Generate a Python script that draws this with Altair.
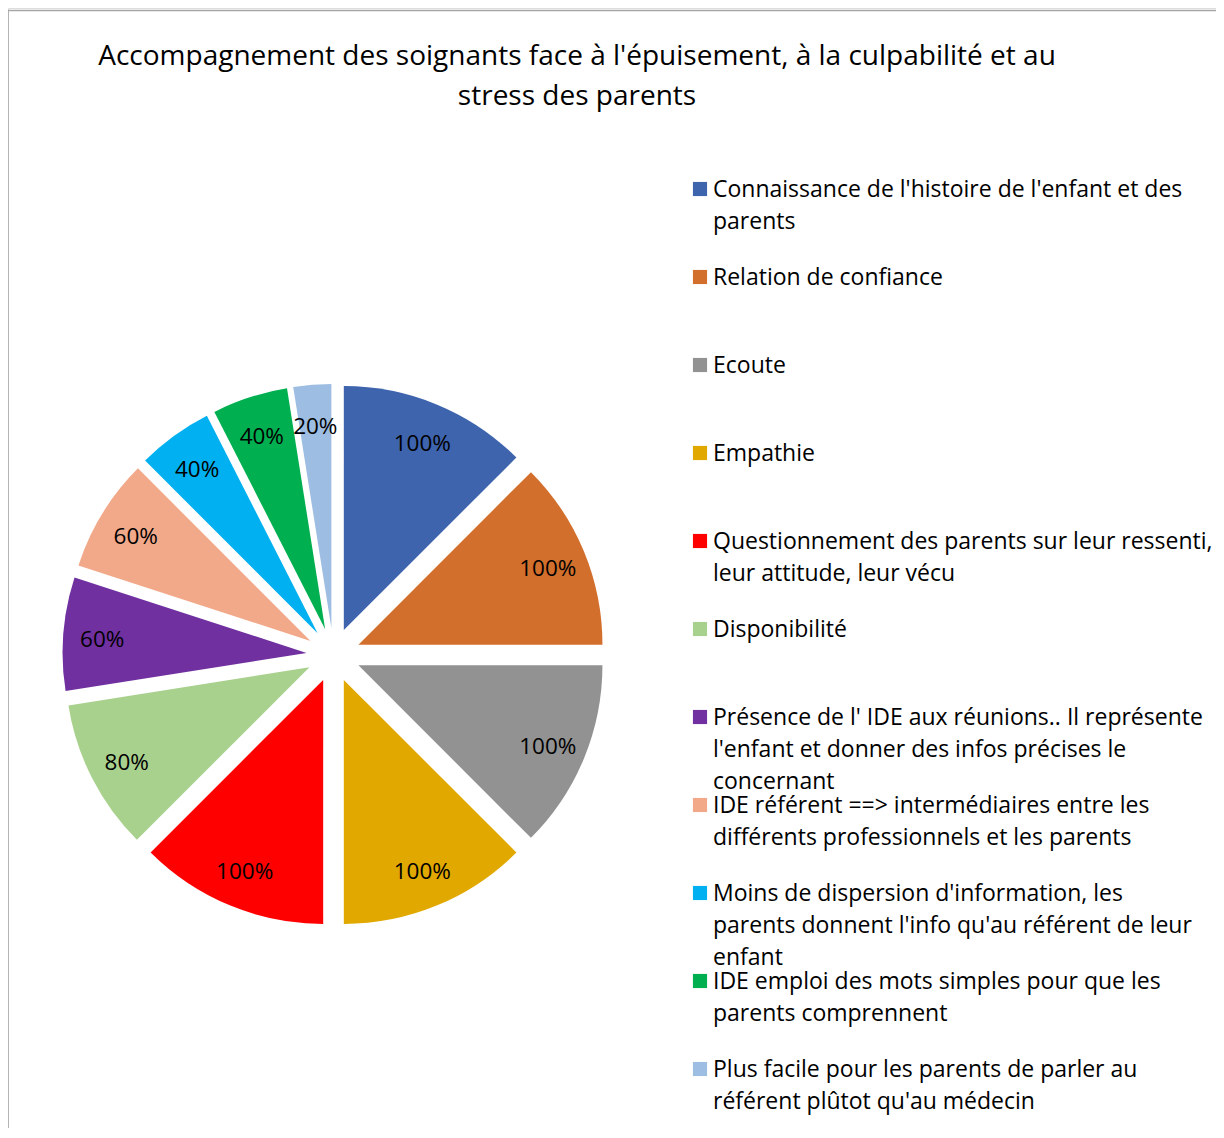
import altair as alt
import pandas as pd

categories = [
    "Connaissance de l'histoire de l'enfant et des\nparents",
    "Relation de confiance",
    "Ecoute",
    "Empathie",
    "Questionnement des parents sur leur ressenti,\nleur attitude, leur vécu",
    "Disponibilité",
    "Présence de l' IDE aux réunions.. Il représente\nl'enfant et donner des infos précises le\nconcernant",
    "IDE référent ==> intermédiaires entre les\ndifférents professionnels et les parents",
    "Moins de dispersion d'information, les\nparents donnent l'info qu'au référent de leur\nenfant",
    "IDE emploi des mots simples pour que les\nparents comprennent",
    "Plus facile pour les parents de parler au\nréférent plûtot qu'au médecin",
]
values = [100, 100, 100, 100, 100, 80, 60, 60, 40, 40, 20]
colors = ["#3E64AE", "#D36F2C", "#929292", "#E1A900", "#FF0000", "#A9D18E",
          "#7030A0", "#F2A98A", "#00B0F0", "#00B050", "#9DBDE2"]
title_lines = ["Accompagnement des soignants face à l'épuisement, à la culpabilité et au",
               "stress des parents"]

df = pd.DataFrame({"cat": categories, "value": values, "idx": list(range(len(values)))})
df["label"] = [f"{v}%" for v in values]

W, H = 1208, 1120
FONT = "Open Sans"
EXPLODE = 27
RADIUS = 244
LABEL_R = 205

color_scale = alt.Scale(domain=categories, range=colors)
xs = alt.Scale(domain=[-325.5, W - 325.5], range=[0, W])
ys = alt.Scale(domain=[-(H - 647), 647], range=[H, 0])

base = alt.Chart(df).transform_window(
    cum="sum(value)", sort=[alt.SortField("idx")], frame=[None, 0]
).transform_joinaggregate(
    total="sum(value)"
).transform_calculate(
    t1="datum.cum / datum.total",
    t0="(datum.cum - datum.value) / datum.total",
).transform_calculate(
    mid="(datum.t0 + datum.t1) * PI",
).transform_calculate(
    ox=f"{EXPLODE} * sin(datum.mid)",
    oy=f"{EXPLODE} * cos(datum.mid)",
    lx=f"{EXPLODE + LABEL_R} * sin(datum.mid)",
    ly=f"{EXPLODE + LABEL_R} * cos(datum.mid)",
)

arcs = base.mark_arc(radius=RADIUS, innerRadius=0).encode(
    x=alt.X("ox:Q", scale=xs, axis=None),
    y=alt.Y("oy:Q", scale=ys, axis=None),
    theta=alt.Theta("t0:Q", scale=alt.Scale(domain=[0, 1], range=[0, 6.283185307179586])),
    theta2="t1:Q",
    color=alt.Color("cat:N", scale=color_scale, legend=None),
)

labels = base.mark_text(font=FONT, fontSize=22.5, color="#000000", dy=3).encode(
    x=alt.X("lx:Q", scale=xs, axis=None),
    y=alt.Y("ly:Q", scale=ys, axis=None),
    text="label:N",
)

ly_scale = alt.Scale(domain=[0, 10], range=[181, 1061])
leg_sq = alt.Chart(df).mark_square(size=200, opacity=1).encode(
    x=alt.value(692),
    y=alt.Y("idx:Q", scale=ly_scale, axis=None),
    color=alt.Color("cat:N", scale=color_scale, legend=None),
)
leg_txt = alt.Chart(df).mark_text(
    font=FONT, fontSize=23, align="left", baseline="top", lineBreak="\n",
    lineHeight=32, dy=-10, color="#000000"
).encode(
    x=alt.value(705),
    y=alt.Y("idx:Q", scale=ly_scale, axis=None),
    text="cat:N",
)

title_df = pd.DataFrame({"t": ["\n".join(title_lines)]})
title = alt.Chart(title_df).mark_text(
    font=FONT, fontSize=28, align="center", baseline="top", lineBreak="\n",
    lineHeight=40, color="#000000"
).encode(
    x=alt.value(569), y=alt.value(35), text="t:N"
)

border_l = alt.Chart(title_df).mark_rule(color="#A6A6A6", strokeWidth=1.5).encode(
    x=alt.value(0), y=alt.value(2.5), y2=alt.value(H)
)
border_t = alt.Chart(title_df).mark_rule(color="#A6A6A6", strokeWidth=1.5).encode(
    x=alt.value(0), x2=alt.value(W), y=alt.value(2.5)
)

chart = alt.layer(
    border_l, border_t, title, arcs, labels, leg_sq, leg_txt
).resolve_scale(
    x="independent", y="independent", theta="independent"
).properties(
    width=W, height=H, padding=0,
    autosize=alt.AutoSizeParams(type="none"),
).configure_view(stroke=None).configure(background="white")

chart.save("out.html", embed_options={"renderer": "svg", "actions": False})
